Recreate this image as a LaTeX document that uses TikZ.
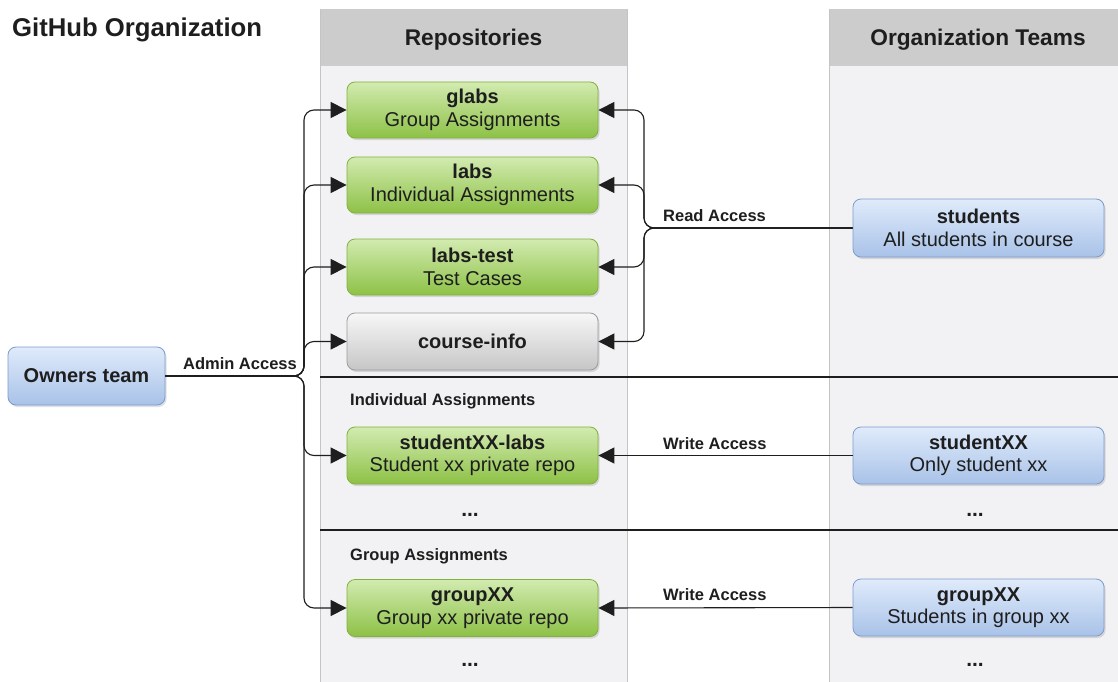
\documentclass[tikz,border=0pt]{standalone}
\usepackage{fontspec}
\setmainfont{Liberation Sans}
\usetikzlibrary{arrows.meta,shadows}

\definecolor{hdrgray}{HTML}{CCCCCC}
\definecolor{lanebg}{HTML}{F2F2F4}
\definecolor{laneline}{HTML}{C4C4C4}
\definecolor{greentop}{HTML}{D2EBB0}
\definecolor{greenbot}{HTML}{8DC146}
\definecolor{greenedge}{HTML}{82B23E}
\definecolor{graytop}{HTML}{F7F7F7}
\definecolor{graybot}{HTML}{C6C6C6}
\definecolor{grayedge}{HTML}{9C9C9C}
\definecolor{bluetop}{HTML}{E0EBFB}
\definecolor{bluebot}{HTML}{A8C2E8}
\definecolor{blueedge}{HTML}{7C9CCB}
\definecolor{ink}{HTML}{1E1E1E}

\newcommand{\boxfont}{\fontsize{20}{22.5}\selectfont}
\newcommand{\lblfont}{\fontsize{16.5}{19}\selectfont\bfseries}

\tikzset{
  x=1pt, y=-1pt,
  card/.style={rounded corners=8pt, minimum width=251pt, minimum height=57pt,
    align=center, inner sep=2pt, text=ink, font=\boxfont, line width=0.8pt,
    drop shadow={shadow xshift=1.5pt, shadow yshift=-2pt, fill=black, opacity=0.12}},
  repo/.style={card, draw=greenedge, top color=greentop, bottom color=greenbot},
  inforepo/.style={card, draw=grayedge, top color=graytop, bottom color=graybot},
  team/.style={card, draw=blueedge, top color=bluetop, bottom color=bluebot},
  conn/.style={draw=ink, line width=1.1pt, rounded corners=10pt,
    -{Triangle[length=16pt,width=16pt]}},
  lbl/.style={font=\lblfont, text=ink, inner sep=0pt},
  hdr/.style={font=\fontsize{22.7}{26}\selectfont\bfseries, text=ink},
  dots/.style={font=\fontsize{21}{23}\selectfont\bfseries, text=ink},
  divider/.style={draw=ink, line width=1.2pt},
}

\begin{document}
\begin{tikzpicture}
\useasboundingbox (0,0) rectangle (1118,682);
\fill[white] (0,0) rectangle (1118,682);

% lanes
\fill[lanebg] (320,66) rectangle (627,682);
\fill[lanebg] (829,66) rectangle (1118,682);
\fill[hdrgray] (320,9) rectangle (627,66);
\fill[hdrgray] (829,9) rectangle (1118,66);
\draw[laneline, line width=0.8pt] (320,9) -- (320,682);
\draw[laneline, line width=0.8pt] (627,9) -- (627,682);
\draw[laneline, line width=0.8pt] (829,9) -- (829,682);
\node[hdr] (repohdr) at (473.5,40) {Repositories};
\node[hdr] (teamhdr) at (978,40) {Organization Teams};

% section dividers
\draw[divider] (320,377) -- (1118,377);
\draw[divider] (320,530) -- (1118,530);

% title
\node[font=\fontsize{25.7}{29}\selectfont\bfseries, text=ink, anchor=west, inner sep=0pt]
  (title) at (12,30) {GitHub Organization};

% repositories
\node[repo, minimum height=56pt] (glabs) at (472.5,110) {\textbf{glabs}\\Group Assignments};
\node[repo, minimum height=56pt] (labs) at (472.5,185) {\textbf{labs}\\Individual Assignments};
\node[repo, minimum height=56pt] (labstest) at (472.5,267) {\textbf{labs-test}\\Test Cases};
\node[inforepo] (courseinfo) at (472.5,341.5) {\textbf{course-info}};
\node[lbl, anchor=west] (indivsec) at (350,401) {Individual Assignments};
\node[repo] (sxlabs) at (472.5,455.5) {\textbf{studentXX-labs}\\Student xx private repo};
\node[dots] (repodotsA) at (470,515) {...};
\node[lbl, anchor=west] (groupsec) at (350,556.5) {Group Assignments};
\node[repo] (gxrepo) at (472.5,608) {\textbf{groupXX}\\Group xx private repo};
\node[dots] (repodotsB) at (470,665) {...};

% teams
\node[team, minimum width=157pt, minimum height=58pt] (owners) at (86.5,376) {\textbf{Owners team}};
\node[team, minimum height=58pt] (students) at (978.5,228) {\textbf{students}\\All students in course};
\node[team] (studentxx) at (978.5,455.5) {\textbf{studentXX}\\Only student xx};
\node[dots] (teamdotsA) at (975,515) {...};
\node[team] (groupxx) at (978.5,607.5) {\textbf{groupXX}\\Students in group xx};
\node[dots] (teamdotsB) at (975,665) {...};

% admin access bus
\coordinate (adminbus) at (304,376);
\path[conn] (owners.east) -- (adminbus) |- (glabs.west);
\path[conn] (owners.east) -- (adminbus) |- (labs.west);
\path[conn] (owners.east) -- (adminbus) |- (labstest.west);
\path[conn] (owners.east) -- (adminbus) |- (courseinfo.west);
\path[conn] (owners.east) -- (adminbus) |- (sxlabs.west);
\path[conn] (owners.east) -- (adminbus) |- (gxrepo.west);
\node[lbl, anchor=south east] (adminlbl) at (297,370) {Admin Access};

% read access bus
\coordinate (readbus) at (644,228);
\path[conn] (students.west) -- (readbus) |- (glabs.east);
\path[conn] (students.west) -- (readbus) |- (labs.east);
\path[conn] (students.west) -- (readbus) |- (labstest.east);
\path[conn] (students.west) -- (readbus) |- (courseinfo.east);
\node[lbl, anchor=south west] (readlbl) at (663,222) {Read Access};

% write access
\path[conn] (studentxx.west) -- (sxlabs.east);
\node[lbl, anchor=south west] (writelblA) at (663,450) {Write Access};
\path[conn] (groupxx.west) -- (gxrepo.east);
\node[lbl, anchor=south west] (writelblB) at (663,601) {Write Access};
\end{tikzpicture}
\end{document}
